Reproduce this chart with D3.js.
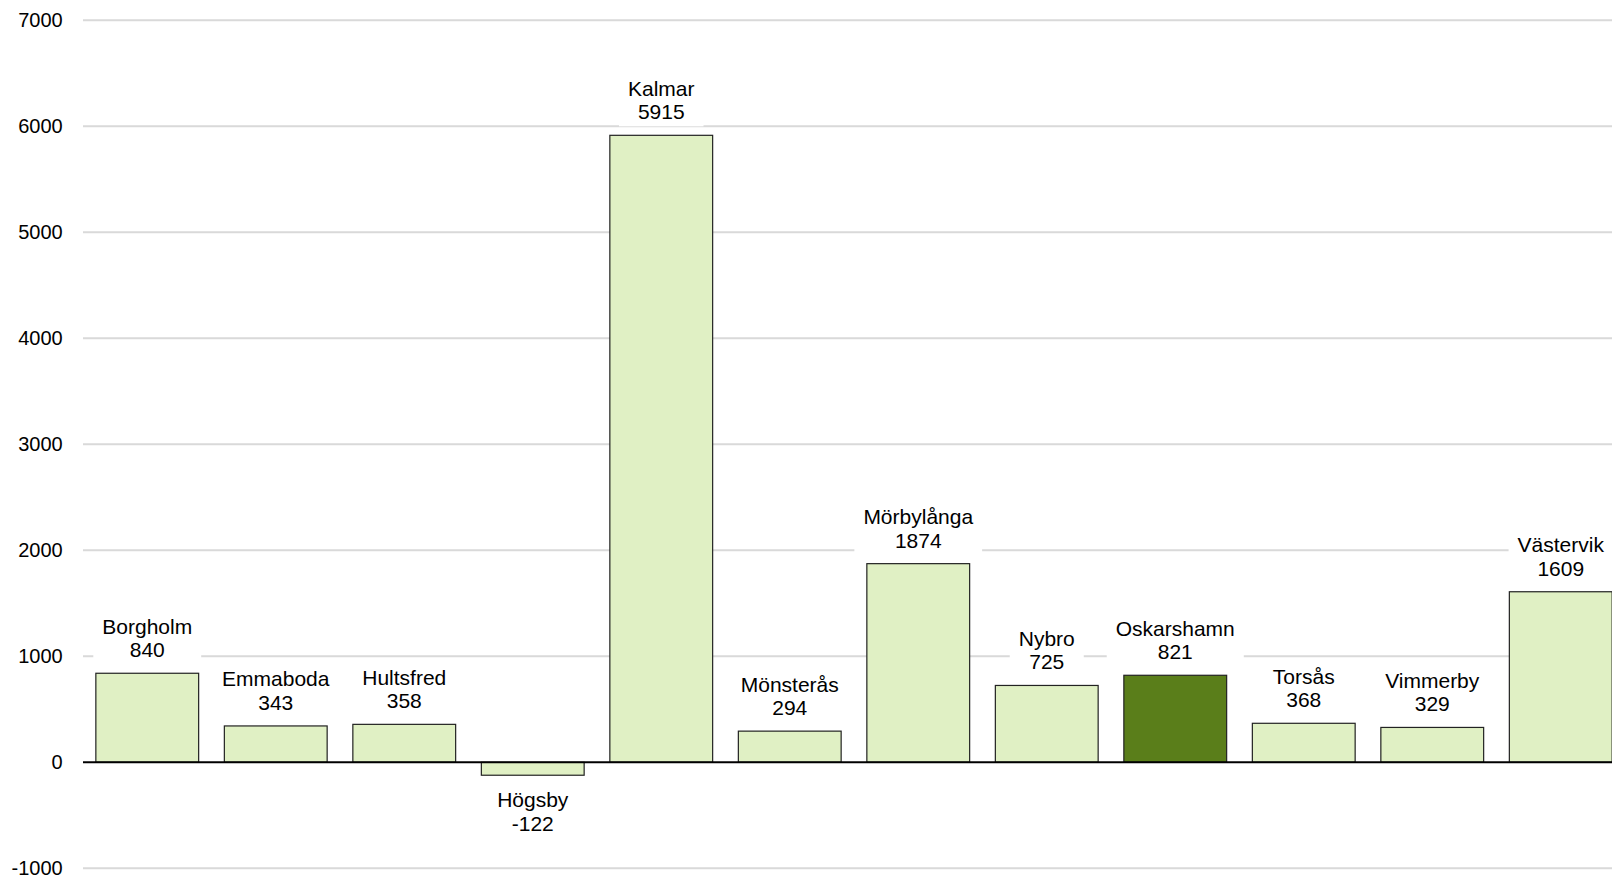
<!DOCTYPE html>
<html>
<head>
<meta charset="utf-8">
<script src="https://cdn.jsdelivr.net/npm/d3@7"></script>
<style>
  body { margin:0; background:#fff; }
  text { font-family: "Liberation Sans", Arial, sans-serif; fill:#000; }
</style>
</head>
<body>
<script>
var categories = ["Borgholm","Emmaboda","Hultsfred","Högsby","Kalmar","Mönsterås","Mörbylånga","Nybro","Oskarshamn","Torsås","Vimmerby","Västervik"];
var values = [840,343,358,-122,5915,294,1874,725,821,368,329,1609];
var highlight = "Oskarshamn";
var yTicks = [-1000,0,1000,2000,3000,4000,5000,6000,7000];

var W = 1612, H = 877;
var svg = d3.select("body").append("svg")
    .attr("width", W).attr("height", H);

var y = d3.scaleLinear().domain([-1000, 7000]).range([868.3, 20.3]);
var x = d3.scaleBand().domain(categories)
    .range([83, 1625])
    .paddingInner(0.2)
    .paddingOuter(0.1);

// gridlines
svg.append("g").selectAll("line")
   .data(yTicks.filter(function(d){ return d !== 0; }))
   .enter().append("line")
   .attr("x1", 83).attr("x2", W)
   .attr("y1", function(d){ return y(d); })
   .attr("y2", function(d){ return y(d); })
   .attr("stroke", "#d9d9d9").attr("stroke-width", 2);

// y axis labels
svg.append("g").selectAll("text")
   .data(yTicks)
   .enter().append("text")
   .attr("x", 62.7)
   .attr("y", function(d){ return y(d); })
   .attr("dy", "0.35em")
   .attr("text-anchor", "end")
   .style("font-size", "20px")
   .text(function(d){ return d; });

// label backgrounds (hide gridlines behind labels)
var lab = svg.append("g");
var data = categories.map(function(c, i){ return {name:c, value:values[i]}; });

var groups = lab.selectAll("g").data(data).enter().append("g");
groups.each(function(d){
  var g = d3.select(this);
  var cx = x(d.name) + x.bandwidth()/2;
  var nameY, valY;
  if (d.value >= 0) {
    valY = y(d.value) - 16;
    nameY = valY - 23.6;
  } else {
    nameY = y(d.value) + 32;
    valY = nameY + 23.6;
  }
  var rect = g.append("rect").attr("fill", "#fff");
  var t1 = g.append("text").attr("x", cx).attr("y", nameY)
     .attr("text-anchor", "middle").style("font-size", "21px").text(d.name);
  var t2 = g.append("text").attr("x", cx).attr("y", valY)
     .attr("text-anchor", "middle").style("font-size", "21px").text(d.value);
  var w = Math.max(t1.node().getComputedTextLength(), t2.node().getComputedTextLength());
  rect.attr("x", cx - w/2 - 9).attr("width", w + 18)
      .attr("y", nameY - 22).attr("height", valY - nameY + 29);
});

// bars
svg.append("g").selectAll("rect")
   .data(data)
   .enter().append("rect")
   .attr("x", function(d){ return x(d.name); })
   .attr("width", x.bandwidth())
   .attr("y", function(d){ return y(Math.max(0, d.value)); })
   .attr("height", function(d){ return Math.abs(y(d.value) - y(0)); })
   .attr("fill", function(d){ return d.name === highlight ? "#5a7e1a" : "#e0f0c4"; })
   .attr("stroke", "#222")
   .attr("stroke-width", 1.2);

// zero line
svg.append("line")
   .attr("x1", 83).attr("x2", W)
   .attr("y1", y(0)).attr("y2", y(0))
   .attr("stroke", "#000").attr("stroke-width", 2);
</script>
</body>
</html>
